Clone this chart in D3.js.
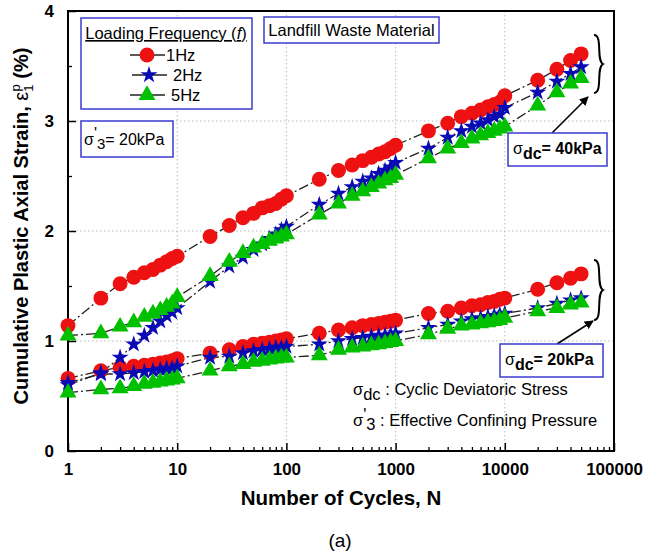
<!DOCTYPE html>
<html><head><meta charset="utf-8">
<script src="https://cdn.jsdelivr.net/npm/d3@7"></script>
<style>body{margin:0;background:#fff}svg{display:block}text{font-family:"Liberation Sans",Arial,sans-serif}</style>
</head><body><svg id="c" width="665" height="556"></svg>
<script>
const cycles = [1,2,3,4,5,6,7,8,9,10,20,30,40,50,60,70,80,90,100,200,300,400,500,600,700,800,900,1000,2000,3000,4000,5000,6000,7000,8000,9000,10000,20000,30000,40000,50000];
// sigma_dc = 40 kPa
const hz1_40 = [1.14,1.39,1.52,1.58,1.62,1.65,1.69,1.72,1.75,1.77,1.95,2.05,2.12,2.16,2.21,2.23,2.25,2.29,2.32,2.47,2.55,2.60,2.64,2.67,2.70,2.72,2.75,2.78,2.91,2.98,3.04,3.07,3.10,3.13,3.15,3.17,3.23,3.37,3.47,3.55,3.61];
const hz2_40 = [0.60,0.71,0.85,0.97,1.05,1.12,1.18,1.23,1.26,1.30,1.54,1.68,1.76,1.83,1.88,1.93,1.97,2.01,2.04,2.24,2.34,2.40,2.45,2.48,2.52,2.55,2.58,2.62,2.75,2.85,2.91,2.95,2.98,3.01,3.04,3.06,3.12,3.26,3.36,3.43,3.49];
const hz5_40 = [1.05,1.07,1.13,1.17,1.22,1.25,1.28,1.31,1.34,1.40,1.59,1.72,1.80,1.85,1.88,1.91,1.93,1.95,1.97,2.15,2.25,2.32,2.36,2.40,2.43,2.46,2.48,2.51,2.66,2.75,2.80,2.84,2.87,2.89,2.91,2.93,2.95,3.14,3.26,3.34,3.39];
// sigma_dc = 20 kPa
const hz1_20 = [0.66,0.73,0.76,0.77,0.78,0.79,0.80,0.81,0.82,0.84,0.89,0.92,0.95,0.97,0.98,0.99,1.00,1.01,1.02,1.07,1.10,1.12,1.14,1.15,1.16,1.17,1.18,1.19,1.25,1.27,1.30,1.32,1.33,1.35,1.36,1.38,1.39,1.47,1.53,1.57,1.61];
const hz2_20 = [0.62,0.70,0.70,0.71,0.72,0.73,0.74,0.75,0.75,0.77,0.85,0.86,0.89,0.91,0.92,0.93,0.94,0.94,0.95,0.97,1.00,1.02,1.03,1.04,1.05,1.05,1.06,1.07,1.12,1.15,1.18,1.20,1.21,1.22,1.23,1.24,1.25,1.30,1.34,1.37,1.39];
const hz5_20 = [0.53,0.56,0.57,0.59,0.61,0.62,0.63,0.64,0.65,0.66,0.73,0.77,0.79,0.81,0.82,0.83,0.84,0.85,0.85,0.87,0.92,0.94,0.95,0.96,0.97,0.98,0.99,1.00,1.06,1.11,1.14,1.15,1.16,1.17,1.18,1.19,1.21,1.27,1.30,1.33,1.35];
const xTicks = [1,10,100,1000,10000,100000];
const xTickLabels = ["1","10","100","1000","10000","100000"];
const yTicks = [0,1,2,3,4];
const legendLabels = ["1Hz","2Hz","5Hz"];

const RED="#ee1111", BLUE="#0a0ab4", GREEN="#00c000", BOX="#3b3bd0";
const series = [
  {v:hz1_40,c:RED,s:"circle"},{v:hz1_20,c:RED,s:"circle"},
  {v:hz2_40,c:BLUE,s:"star"},{v:hz2_20,c:BLUE,s:"star"},
  {v:hz5_40,c:GREEN,s:"tri"},{v:hz5_20,c:GREEN,s:"tri"}
];
const svg = d3.select("#c");
const L=68,R=614,T=11,B=451;
const x = d3.scaleLog().domain([1,100000]).range([L,R]);
const y = d3.scaleLinear().domain([0,4]).range([B,T]);
const sym = {circle:d3.symbol().type(d3.symbolCircle).size(175),
             star:d3.symbol().type(d3.symbolStar).size(90),
             tri:d3.symbol().type(d3.symbolTriangle).size(125)};

// grid
const g = svg.append("g");
[10,100,1000,10000].forEach(v=>g.append("line").attr("x1",x(v)).attr("x2",x(v)).attr("y1",T).attr("y2",B)
  .attr("stroke","#bbb").attr("stroke-width",1).attr("stroke-dasharray","1.5,2.5"));
[1,2,3].forEach(v=>g.append("line").attr("y1",y(v)).attr("y2",y(v)).attr("x1",L).attr("x2",R)
  .attr("stroke","#bbb").attr("stroke-width",1).attr("stroke-dasharray","1.5,2.5"));

// axes
const minorX = [];
for(let d=1; d<100000; d*=10) for(let k=2;k<=9;k++) minorX.push(d*k);
const xAx = d3.axisBottom(x).tickValues(xTicks).tickFormat((d,i)=>xTickLabels[i]).tickSizeInner(-8).tickSizeOuter(0).tickPadding(12);
const xa = svg.append("g").attr("transform",`translate(0,${B})`).call(xAx);
xa.select(".domain").remove();
xa.selectAll("text").attr("font-size",17).attr("font-weight","bold").attr("fill","#000").attr("font-family","Liberation Sans, Arial");
xa.selectAll("line").attr("stroke-width",1.5);
const xm = svg.append("g").attr("transform",`translate(0,${B})`).call(d3.axisBottom(x).tickValues(minorX).tickSizeInner(-4).tickSizeOuter(0).tickFormat(""));
xm.select(".domain").remove(); xm.selectAll("line").attr("stroke-width",1.3);

const yAx = d3.axisLeft(y).tickValues(yTicks).tickFormat(d3.format("d")).tickSizeInner(-8).tickSizeOuter(0).tickPadding(14);
const ya = svg.append("g").attr("transform",`translate(${L},0)`).call(yAx);
ya.select(".domain").remove();
ya.selectAll("text").attr("font-size",17).attr("font-weight","bold").attr("fill","#000").attr("font-family","Liberation Sans, Arial");
ya.selectAll("line").attr("stroke-width",1.5);
const ym = svg.append("g").attr("transform",`translate(${L},0)`).call(d3.axisLeft(y).tickValues([0.5,1.5,2.5,3.5]).tickSizeInner(-4).tickSizeOuter(0).tickFormat(""));
ym.select(".domain").remove(); ym.selectAll("line").attr("stroke-width",1.3);

svg.append("rect").attr("x",L).attr("y",T).attr("width",R-L).attr("height",B-T)
  .attr("fill","none").attr("stroke","#000").attr("stroke-width",2);

// lines
const line = d3.line().x((d,i)=>x(cycles[i])).y(d=>y(d));
series.forEach(s=>svg.append("path").attr("d",line(s.v)).attr("fill","none")
  .attr("stroke","#222").attr("stroke-width",1.3).attr("stroke-dasharray","10,3,2,3"));
// markers
series.forEach(s=>{
  svg.append("g").selectAll("path").data(s.v).join("path")
    .attr("d",sym[s.s]).attr("fill",s.c)
    .attr("transform",(d,i)=>`translate(${x(cycles[i])},${y(d)})`);
});

// legend
svg.append("rect").attr("x",81).attr("y",18).attr("width",171).attr("height",91).attr("fill","#fff").attr("stroke",BOX).attr("stroke-width",1.5);
svg.append("text").attr("x",166).attr("y",39).attr("text-anchor","middle").attr("font-size",16.5).attr("text-decoration","underline")
  .html('Loading Frequency (<tspan font-style="italic">f</tspan>)');
const legSyms=["circle","star","tri"], legCols=[RED,BLUE,GREEN], legY=[55,75,95], legX=[147,149,147];
legendLabels.forEach((lab,i)=>{
  svg.append("line").attr("x1",legX[i]-17).attr("x2",legX[i]+18).attr("y1",legY[i]).attr("y2",legY[i]).attr("stroke","#222").attr("stroke-width",1.3);
  svg.append("path").attr("d",sym[legSyms[i]]).attr("fill",legCols[i]).attr("transform",`translate(${legX[i]},${legY[i]})`);
  svg.append("text").attr("x",legX[i]+(i===0?19:24)).attr("y",legY[i]+6).attr("font-size",16.5).text(lab);
});
// sigma3 box
svg.append("rect").attr("x",81).attr("y",121).attr("width",92).attr("height",36).attr("fill","#fff").attr("stroke",BOX).attr("stroke-width",1.5);
svg.append("text").attr("x",84).attr("y",145).attr("font-size",16)
  .html('σ<tspan dy="-6">\'</tspan><tspan dy="10" font-size="15">3</tspan><tspan dy="-4">= 20kPa</tspan>');
// material box
svg.append("rect").attr("x",264).attr("y",17).attr("width",175).attr("height",26).attr("fill","#fff").attr("stroke",BOX).attr("stroke-width",1.5);
svg.append("text").attr("x",351.5).attr("y",36).attr("text-anchor","middle").attr("font-size",16.5).text("Landfill Waste Material");

// braces
function brace(xb,y0,y1){
  const m=(y0+y1)/2, w=9;
  return `M${xb},${y0} C${xb+w},${y0} ${xb+w*0.2},${m-4} ${xb+w},${m} C${xb+w*0.2},${m+4} ${xb+w},${y1} ${xb},${y1}`;
}
svg.append("path").attr("d",brace(594,35,93)).attr("fill","none").attr("stroke","#000").attr("stroke-width",2);
svg.append("path").attr("d",brace(594,260,320)).attr("fill","none").attr("stroke","#000").attr("stroke-width",2);
// arrows
svg.append("defs").append("marker").attr("id","ah").attr("viewBox","0 0 10 10").attr("refX",9).attr("refY",5)
  .attr("markerWidth",9).attr("markerHeight",9).attr("markerUnits","userSpaceOnUse").attr("orient","auto")
  .append("path").attr("d","M0,0 L10,5 L0,10 Z").attr("fill","#000");
svg.append("line").attr("x1",552).attr("y1",133).attr("x2",588).attr("y2",97).attr("stroke","#000").attr("stroke-width",1.6).attr("marker-end","url(#ah)");
svg.append("line").attr("x1",557).attr("y1",344).attr("x2",593).attr("y2",321).attr("stroke","#000").attr("stroke-width",1.6).attr("marker-end","url(#ah)");
// sigma_dc boxes
function sdcBox(bx,by,bw,bh,val){
  svg.append("rect").attr("x",bx).attr("y",by).attr("width",bw).attr("height",bh).attr("fill","#fff").attr("stroke",BOX).attr("stroke-width",1.5);
  svg.append("text").attr("x",bx+5).attr("y",by+bh/2+4).attr("font-size",16).attr("font-weight","bold")
    .html(`<tspan font-weight="normal">σ</tspan><tspan dy="5">dc</tspan><tspan dy="-5">= ${val}</tspan>`);
}
sdcBox(508,133,99,33,"40kPa");
sdcBox(500,344,103,33,"20kPa");
// notes
svg.append("text").attr("x",353).attr("y",395).attr("font-size",16.5)
  .html('σ<tspan dy="5">dc</tspan><tspan dy="-5"> : Cyclic Deviatoric Stress</tspan>');
svg.append("text").attr("x",353).attr("y",426).attr("font-size",16.5)
  .html('σ<tspan dy="-6">\'</tspan><tspan dy="10">3</tspan><tspan dy="-4"> : Effective Confining Pressure</tspan>');

// axis titles
svg.append("text").attr("x",(L+R)/2).attr("y",505).attr("text-anchor","middle").attr("font-size",20.5).attr("font-weight","bold")
  .text("Number of Cycles, N");
svg.append("text").attr("x",340).attr("y",547).attr("text-anchor","middle").attr("font-size",19).text("(a)");
svg.append("text").attr("transform","translate(28,226) rotate(-90)").attr("text-anchor","middle").attr("font-size",20).attr("font-weight","bold")
  .html('Cumulative Plastic Axial Strain, <tspan font-weight="normal">ε</tspan><tspan font-weight="normal" font-size="13" dy="5">1</tspan><tspan font-weight="normal" font-size="13" dy="-13" dx="-7">p</tspan><tspan dy="8"> (%)</tspan>');
</script></body></html>
